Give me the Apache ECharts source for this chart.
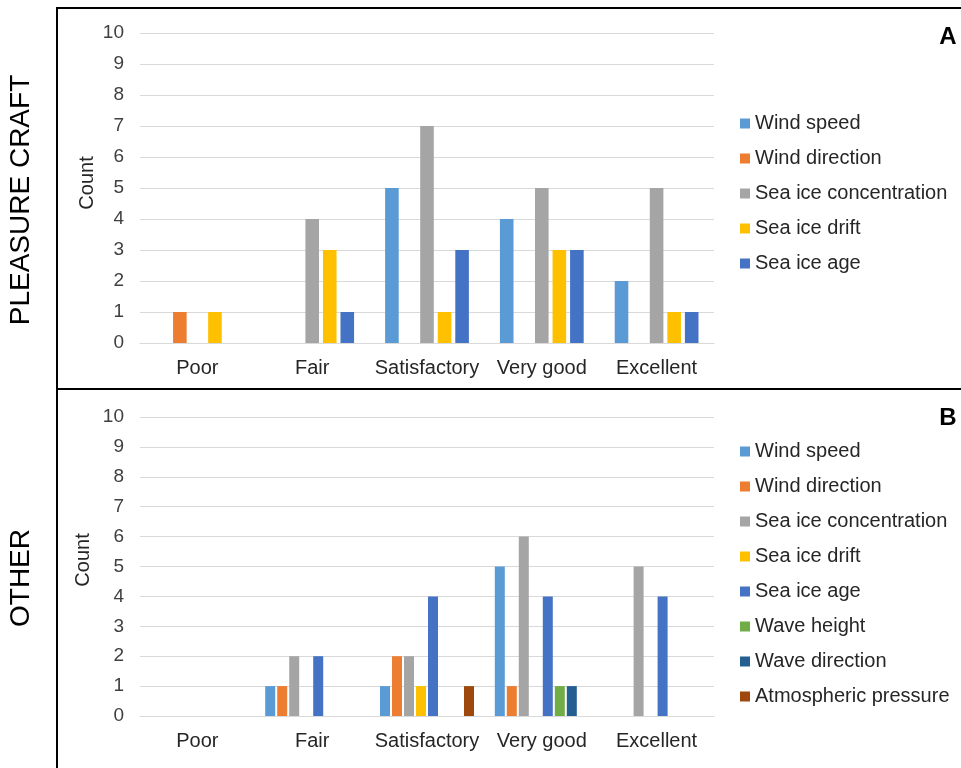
<!DOCTYPE html>
<html>
<head>
<meta charset="utf-8">
<script src="https://cdn.jsdelivr.net/npm/echarts@6/dist/echarts.min.js"></script>
<style>
html,body{margin:0;padding:0;background:#fff;}
#c{width:961px;height:768px;}
</style>
</head>
<body>
<div id="c"></div>
<script>
// ---- data ----
const categories = ['Poor', 'Fair', 'Satisfactory', 'Very good', 'Excellent'];
const yTicks = [0, 1, 2, 3, 4, 5, 6, 7, 8, 9, 10];

const seriesNamesA = ['Wind speed', 'Wind direction', 'Sea ice concentration', 'Sea ice drift', 'Sea ice age'];
const windSpeedA = [0, 0, 5, 4, 2];
const windDirectionA = [1, 0, 0, 0, 0];
const seaIceConcA = [0, 4, 7, 5, 5];
const seaIceDriftA = [1, 3, 1, 3, 1];
const seaIceAgeA = [0, 1, 3, 3, 1];

const seriesNamesB = ['Wind speed', 'Wind direction', 'Sea ice concentration', 'Sea ice drift', 'Sea ice age', 'Wave height', 'Wave direction', 'Atmospheric pressure'];
const windSpeedB = [0, 1, 1, 5, 0];
const windDirectionB = [0, 1, 2, 1, 0];
const seaIceConcB = [0, 2, 2, 6, 5];
const seaIceDriftB = [0, 0, 1, 0, 0];
const seaIceAgeB = [0, 2, 4, 4, 4];
const waveHeightB = [0, 0, 0, 1, 0];
const waveDirectionB = [0, 0, 0, 1, 0];
const atmPressureB = [0, 0, 1, 0, 0];

const colors = ['#5B9BD5', '#ED7D31', '#A5A5A5', '#FFC000', '#4472C4', '#70AD47', '#255E91', '#9E480E'];

const valuesA = [windSpeedA, windDirectionA, seaIceConcA, seaIceDriftA, seaIceAgeA];
const valuesB = [windSpeedB, windDirectionB, seaIceConcB, seaIceDriftB, seaIceAgeB, waveHeightB, waveDirectionB, atmPressureB];

// ---- chart ----
const FONT = "'Liberation Sans', Arial, sans-serif";
const chart = echarts.init(document.getElementById('c'), null, {renderer: 'canvas'});

function xAxisCfg(gi) {
  return {
    type: 'category', gridIndex: gi, data: categories,
    axisLine: {lineStyle: {color: '#D9D9D9', width: 1}},
    axisTick: {show: false},
    axisLabel: {color: '#262626', fontSize: 20, fontFamily: FONT, margin: 15, interval: 0, hideOverlap: false}
  };
}
function yAxisCfg(gi) {
  return {
    type: 'value', gridIndex: gi, min: yTicks[0], max: yTicks[yTicks.length - 1], interval: 1,
    axisLine: {show: false}, axisTick: {show: false},
    splitLine: {lineStyle: {color: '#D9D9D9', width: 1}},
    axisLabel: {color: '#404040', fontSize: 19, fontFamily: FONT, margin: 16}
  };
}

const series = [];
seriesNamesA.forEach((n, i) => {
  series.push({
    name: n, type: 'bar', xAxisIndex: 0, yAxisIndex: 0, data: valuesA[i],
    barWidth: 13.6, barGap: '29%',
    itemStyle: {color: colors[i]}
  });
});
seriesNamesB.forEach((n, i) => {
  series.push({
    name: n, type: 'bar', xAxisIndex: 1, yAxisIndex: 1, data: valuesB[i],
    barWidth: 10, barGap: '20%',
    itemStyle: {color: colors[i]}
  });
});

function legendCfg(names, top) {
  return {
    orient: 'vertical', left: 735, top: top,
    data: names, icon: 'rect', itemWidth: 10, itemHeight: 10, itemGap: 12,
    selectedMode: false,
    textStyle: {color: '#262626', fontSize: 20, fontFamily: FONT, lineHeight: 23}
  };
}

chart.setOption({
  animation: false,
  textStyle: {fontFamily: FONT},
  grid: [
    {left: 140, top: 33, width: 574, height: 310},
    {left: 140, top: 417, width: 574, height: 299}
  ],
  xAxis: [xAxisCfg(0), xAxisCfg(1)],
  yAxis: [yAxisCfg(0), yAxisCfg(1)],
  legend: [legendCfg(seriesNamesA, 107), legendCfg(seriesNamesB, 435)],
  series: series,
  graphic: [
    {type: 'rect', shape: {x: 57, y: 8, width: 910, height: 381}, style: {fill: 'none', stroke: '#000', lineWidth: 2}, silent: true},
    {type: 'rect', shape: {x: 57, y: 389, width: 910, height: 390}, style: {fill: 'none', stroke: '#000', lineWidth: 2}, silent: true},
    {type: 'text', x: 21, y: 200, rotation: Math.PI / 2, style: {text: 'PLEASURE CRAFT', fill: '#000', font: "28px 'Liberation Sans', Arial", textAlign: 'center', textVerticalAlign: 'middle'}},
    {type: 'text', x: 21, y: 578, rotation: Math.PI / 2, style: {text: 'OTHER', fill: '#000', font: "28px 'Liberation Sans', Arial", textAlign: 'center', textVerticalAlign: 'middle'}},
    {type: 'text', x: 87, y: 183, rotation: Math.PI / 2, style: {text: 'Count', fill: '#262626', font: "20px 'Liberation Sans', Arial", textAlign: 'center', textVerticalAlign: 'middle'}},
    {type: 'text', x: 83, y: 560, rotation: Math.PI / 2, style: {text: 'Count', fill: '#262626', font: "20px 'Liberation Sans', Arial", textAlign: 'center', textVerticalAlign: 'middle'}},
    {type: 'text', x: 948, y: 37, style: {text: 'A', fill: '#000', font: "bold 24px 'Liberation Sans', Arial", textAlign: 'center', textVerticalAlign: 'middle'}},
    {type: 'text', x: 948, y: 418, style: {text: 'B', fill: '#000', font: "bold 24px 'Liberation Sans', Arial", textAlign: 'center', textVerticalAlign: 'middle'}}
  ]
});
</script>
</body>
</html>
